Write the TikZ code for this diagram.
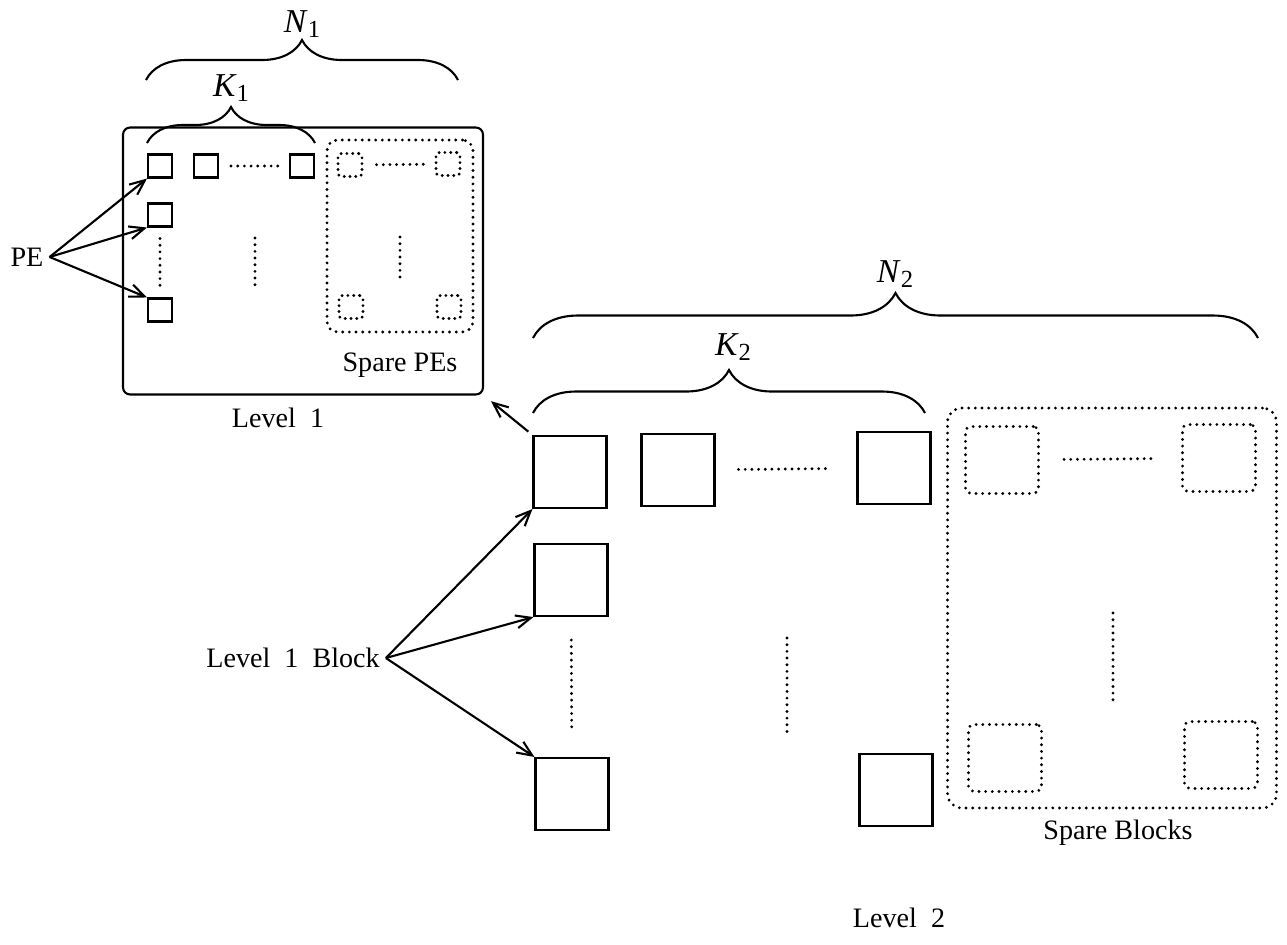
\documentclass[tikz,border=0pt]{standalone}
\usepackage{fontspec}
\setmainfont{Liberation Serif}
\usetikzlibrary{positioning,arrows.meta,decorations.pathreplacing}
\newcommand{\sublbl}[2]{{\fontsize{19}{20}\selectfont\textit{#1}\raisebox{-0.35ex}{\fontsize{14}{14}\selectfont #2}}}
\begin{document}
\begin{tikzpicture}[x=0.02cm, y=-0.02cm,
  every node/.style={font=\fontsize{16}{19}\selectfont},
  dotline/.style={line width=1.8pt, line cap=round, dash pattern=on 0pt off 3.8pt},
  pebox/.style={draw, line width=1.2pt, minimum width=0.48cm, minimum height=0.46cm, inner sep=0pt},
  sparepe/.style={pebox, dotline, dash pattern=on 0pt off 3.3pt, rounded corners=2pt},
  blkbox/.style={draw, line width=1.2pt, minimum width=1.46cm, minimum height=1.44cm, inner sep=0pt},
  spareblk/.style={blkbox, dotline, minimum height=1.34cm, rounded corners=3pt},
  brc/.style={line width=1.2pt, decorate, decoration={brace, amplitude=#1}},
  arr/.style={->, line width=1.2pt},
  >={Straight Barb[length=3mm,width=2.6mm]}]
  \useasboundingbox (0,0) rectangle (1287,944);
  % level 1
  \node[draw, line width=1.2pt, rounded corners=4pt, minimum width=7.2cm, minimum height=5.34cm] (lvlone) at (303,261) {};
  \node[draw, dotline, rounded corners=6pt, minimum width=2.92cm, minimum height=3.84cm] (sparepes) at (400,236) {};
  \node[pebox] (pea) at (160,166) {};
  \node[pebox] (peb) at (206,166) {};
  \node[pebox] (pec) at (302,166) {};
  \node[pebox] (ped) at (160,215) {};
  \node[pebox] (pee) at (160,310) {};
  \node[sparepe] (spa) at (350,165) {};
  \node[sparepe] (spb) at (448,164) {};
  \node[sparepe] (spc) at (351,307) {};
  \node[sparepe] (spd) at (449,307) {};
  \draw[dotline, shorten <=0.24cm, shorten >=0.2cm] (peb) -- (pec);
  \draw[dotline, shorten <=0.22cm, shorten >=0.22cm] (ped) -- (pee);
  \draw[dotline] (255,238) -- (255,285);
  \draw[dotline, shorten <=0.26cm, shorten >=0.22cm] (spa) -- (spb);
  \draw[dotline] (400,237) -- (400,283);
  \node (spl) at (400,365) {Spare PEs};
  \node (lvlonelbl) at (278,418) {Level\enspace 1};
  \node (pe) at (27,257) {PE};
  \draw[arr] (pe.east) -- (pea.south west);
  \draw[arr] (pe.east) -- (ped.south west);
  \draw[arr] (pe.east) -- (pee.north west);
  \draw[brc=0.8cm] (146,80) -- (458,80);
  \node (nonelbl) at (302,24) {\sublbl{N}{1}};
  \draw[brc=0.72cm] (147,143) -- (315,143);
  \node (konelbl) at (231,88) {\sublbl{K}{1}};
  % level 2
  \node[blkbox] (blka) at (570,472) {};
  \node[blkbox] (blkb) at (678,470) {};
  \node[blkbox] (blkc) at (894,468) {};
  \node[blkbox] (blkd) at (571,580) {};
  \node[blkbox] (blke) at (572,794) {};
  \node[blkbox] (blkf) at (896,790) {};
  \draw[dotline, shorten <=0.46cm, shorten >=0.5cm] (blkb) -- (blkc);
  \draw[dotline, shorten <=0.46cm, shorten >=0.5cm] (blkd) -- (blke);
  \draw[dotline] (787,638) -- (787,732);
  \node[draw, dotline, rounded corners=8pt, minimum width=6.58cm, minimum height=8cm] (spareblks) at (1112,608) {};
  \node[spareblk] (sba) at (1002,460) {};
  \node[spareblk] (sbb) at (1219,458) {};
  \node[spareblk] (sbc) at (1005,758) {};
  \node[spareblk] (sbd) at (1221,755) {};
  \draw[dotline, shorten <=0.48cm, shorten >=0.48cm] (sba) -- (sbb);
  \draw[dotline] (1113,613) -- (1113,702);
  \node (sbl) at (1118,833) {Spare Blocks};
  \node (lvltwolbl) at (899,918) {Level\enspace 2};
  \node (blklbl) at (293,658) {Level\enspace 1\enspace Block};
  \draw[arr] (blklbl.east) -- (blka.south west);
  \draw[arr] (blklbl.east) -- (blkd.south west);
  \draw[arr] (blklbl.east) -- (blke.north west);
  \draw[arr, shorten <=3pt, shorten >=0.18cm] (blka.north west) -- (lvlone.south east);
  \draw[brc=0.9cm] (533,338) -- (1258,338);
  \node (ntwolbl) at (895,274) {\sublbl{N}{2}};
  \draw[brc=0.86cm] (533,413) -- (925,413);
  \node (ktwolbl) at (733,347) {\sublbl{K}{2}};
\end{tikzpicture}
\end{document}
